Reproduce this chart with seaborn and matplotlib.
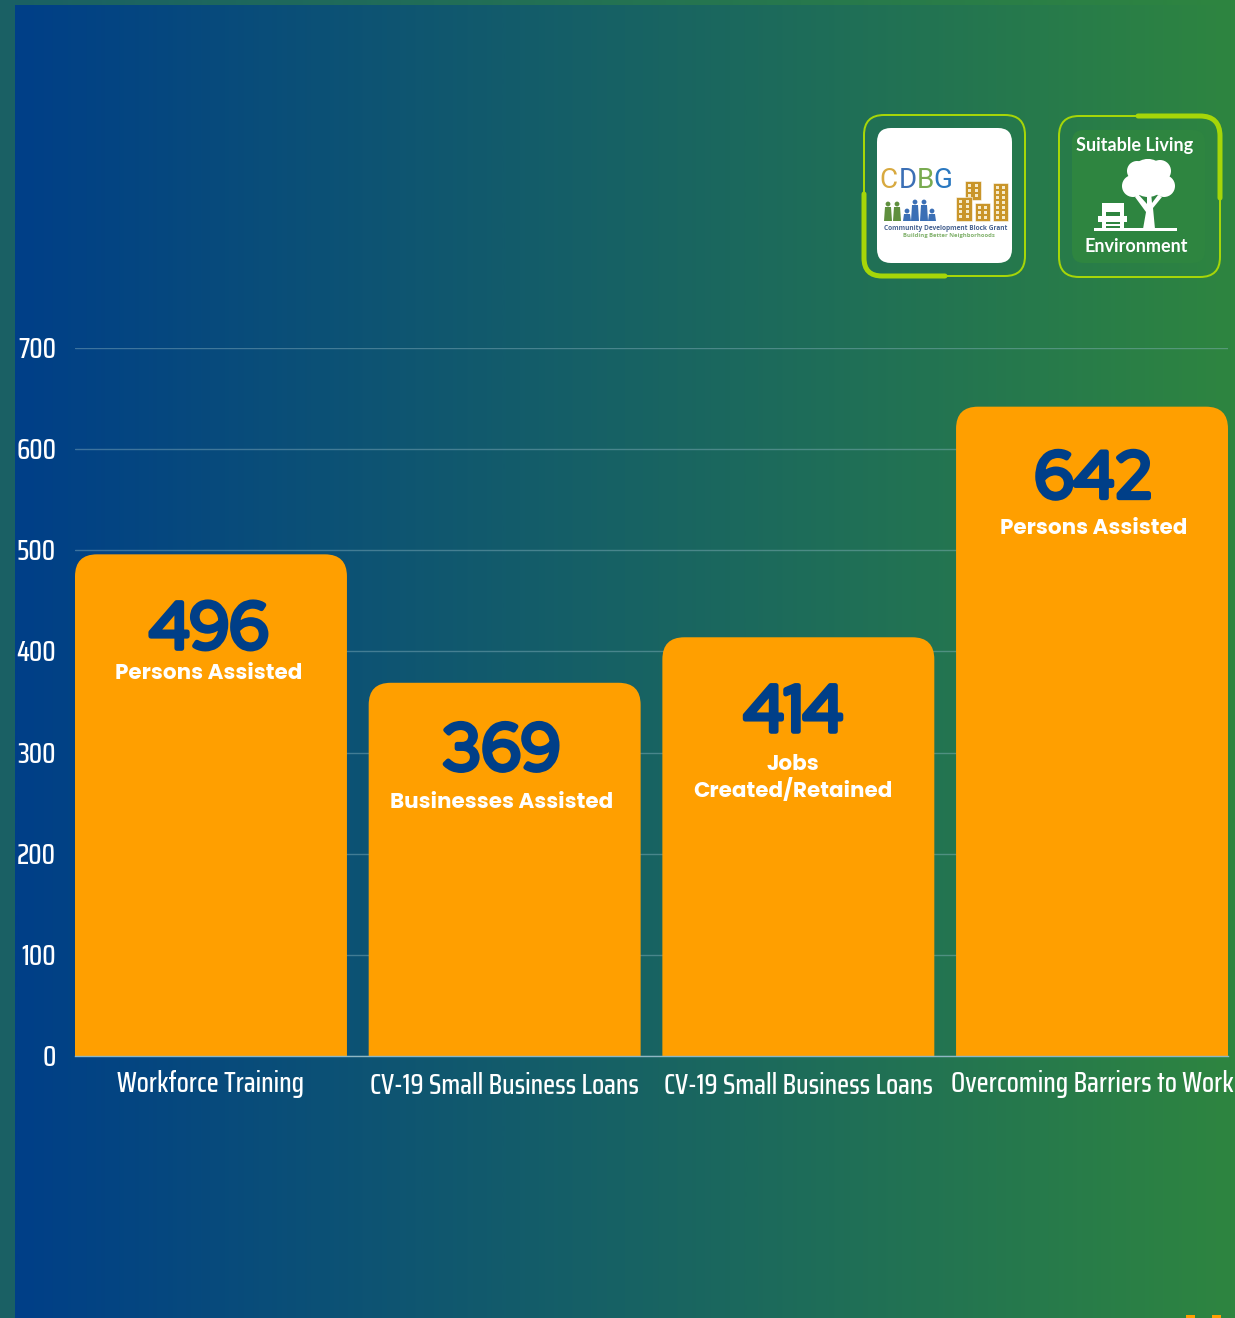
import matplotlib
matplotlib.use("Agg")
import matplotlib.patheffects as pe
import matplotlib.pyplot as plt
import numpy as np
import seaborn as sns
from matplotlib import font_manager as fm
from matplotlib.colors import LinearSegmentedColormap
from matplotlib.patches import Circle, FancyBboxPatch, PathPatch, Polygon, Rectangle
from matplotlib.path import Path
from matplotlib.transforms import ScaledTranslation

categories = [
    "Workforce Training",
    "CV-19 Small Business Loans",
    "CV-19 Small Business Loans",
    "Overcoming Barriers to Work",
]
values = [496, 369, 414, 642]
value_labels = ["496", "369", "414", "642"]
unit_labels = [
    "Persons Assisted",
    "Businesses Assisted",
    "Jobs\nCreated/Retained",
    "Persons Assisted",
]
y_ticks = [0, 100, 200, 300, 400, 500, 600, 700]

W, H = 1235, 1318
ORANGE = "#FF9F00"
NAVY = "#003F88"
GREEN = "#2E8540"
LIME = "#A6D608"
PX = 72 / 100

# nicer faces when present, otherwise the plain installed ones
installed = {f.name for f in fm.fontManager.ttflist}
TICK_FONT, TICK_SIZE = ("Saira Condensed", 20) if "Saira Condensed" in installed else ("Roboto", 14)
UNIT_FONT = "Poppins" if "Poppins" in installed else "Open Sans"
# Red Hat only comes as a regular weight here, so it gets thickened with a stroke
if "Red Hat Display" in installed:
    VALUE_FONT, VALUE_SIZE, VALUE_STROKE = "Red Hat Display", 47, 5 * PX
else:
    VALUE_FONT, VALUE_SIZE, VALUE_STROKE = "Open Sans", 46, 3 * PX


def rounded_frame(bg, x0, y0, x1, y1, r, color, lw, zorder=3):
    bg.add_patch(FancyBboxPatch((x0 + r, y0 + r), x1 - x0 - 2 * r, y1 - y0 - 2 * r,
                                boxstyle=f"round,pad={r},rounding_size={r}",
                                fc="none", ec=color, lw=lw, zorder=zorder))


def corner_stroke(bg, pts):
    codes = [Path.MOVETO, Path.LINETO, Path.CURVE3, Path.CURVE3, Path.LINETO]
    bg.add_patch(PathPatch(Path(pts, codes), fc="none", ec=LIME, lw=5 * PX,
                           capstyle="round", zorder=4))


def draw_background(bg):
    cmap = LinearSegmentedColormap.from_list("bg", [NAVY, GREEN])
    grad = np.linspace(0, 1, 512).reshape(1, -1)
    bg.imshow(grad, extent=(15, W, H, 5), cmap=cmap, aspect="auto", zorder=0)
    top = LinearSegmentedColormap.from_list("top", ["#1A6064", GREEN])
    bg.imshow(grad, extent=(0, W, 5, 0), cmap=top, aspect="auto", zorder=0)
    bg.add_patch(Rectangle((0, 0), 15, H, fc="#1A6064", ec="none", zorder=1))
    # clipped orange shapes at the bottom edge
    bg.add_patch(Rectangle((1186, 1315), 9, 3, fc=ORANGE, ec="none", zorder=1))
    bg.add_patch(Rectangle((1212, 1315), 9, 3, fc=ORANGE, ec="none", zorder=1))


def draw_cdbg_logo(bg):
    rounded_frame(bg, 864, 115, 1025, 276, 20, LIME, 2 * PX)
    corner_stroke(bg, [(864, 194), (864, 258), (864, 276), (882, 276), (945, 276)])
    bg.add_patch(FancyBboxPatch((891, 142), 107, 107, boxstyle="round,pad=14,rounding_size=14",
                                fc="white", ec="none", zorder=3))
    for x, ch, c in [(888.5, "C", "#D8A93F"), (907.5, "D", "#3B6FB5"),
                     (925.5, "B", "#79AB50"), (943, "G", "#2A78C0")]:
        bg.text(x, 180, ch, color=c, fontsize=20, family="Roboto",
                ha="center", va="center", zorder=5)
    gold = "#C9952A"
    for x0, y0, x1, y1 in [(965, 181, 981, 200), (956, 197, 972, 221),
                           (975, 203, 990, 221), (993, 183, 1008, 221)]:
        bg.add_patch(Rectangle((x0, y0), x1 - x0, y1 - y0, fc=gold, ec="white",
                               lw=0.4, zorder=4))
        for wy in np.arange(y0 + 3, y1 - 4, 5):
            for wx in (x0 + 3, x1 - 6):
                bg.add_patch(Rectangle((wx, wy), 3, 3, fc="#F6EBCB", ec="none", zorder=5))
    people = [(888, 202, "#5F8F3E"), (897, 202, "#5F8F3E"), (907, 209, "#3B6FB5"),
              (915, 200, "#3B6FB5"), (924, 200, "#3B6FB5"), (932, 209, "#3B6FB5")]
    for x, top, c in people:
        bg.add_patch(Circle((x, top + 2), 2.4, fc=c, ec="none", zorder=5))
        bg.add_patch(Polygon([(x - 3, top + 5), (x + 3, top + 5), (x + 4, 221), (x - 4, 221)],
                             fc=c, ec="none", zorder=5))
    bg.text(946, 228, "Community Development Block Grant", color="#44608F", fontsize=4.7,
            fontweight="bold", ha="center", va="center", zorder=5, family="Open Sans")
    bg.text(949, 236, "Building Better Neighborhoods", color="#7FB069", fontsize=4.2,
            fontweight="bold", ha="center", va="center", zorder=5, family="Open Sans")


def draw_living_badge(bg):
    rounded_frame(bg, 1059, 116, 1220, 277, 20, LIME, 2 * PX)
    corner_stroke(bg, [(1138, 116), (1200, 116), (1220, 116), (1220, 136), (1220, 198)])
    bg.add_patch(FancyBboxPatch((1084, 142), 109, 109, boxstyle="round,pad=12,rounding_size=12",
                                fc=GREEN, ec="none", zorder=3))
    bg.text(1135, 146, "Suitable Living", color="white", fontsize=13, family="Lato",
            fontweight="bold", ha="center", va="center", zorder=5)
    bg.text(1136, 247, "Environment", color="white", fontsize=13, family="Lato",
            fontweight="bold", ha="center", va="center", zorder=5)
    for cx, cy, r in [(1148, 178, 19), (1133, 186, 11), (1164, 186, 11), (1137, 171, 10),
                      (1160, 171, 11), (1148, 167, 8)]:
        bg.add_patch(Circle((cx, cy), r, fc="white", ec="none", zorder=5))
    bg.add_patch(Polygon([(1143, 229), (1155, 229), (1153, 208), (1162, 197), (1158, 195),
                          (1152, 203), (1151, 192), (1147, 192), (1147, 204), (1138, 194),
                          (1135, 197), (1146, 212)], fc="white", ec="none", zorder=5))
    bg.add_patch(Rectangle((1094, 228), 83, 3, fc="white", ec="none", zorder=5))
    for x0, y0, x1, y1 in [(1102, 203, 1124, 212), (1098, 216, 1127, 222),
                           (1102, 212, 1106, 229), (1120, 212, 1124, 229),
                           (1102, 224, 1124, 226)]:
        bg.add_patch(Rectangle((x0, y0), x1 - x0, y1 - y0, fc="white", ec="none", zorder=5))


def main():
    sns.set_theme(style="white")
    fig = plt.figure(figsize=(W / 100, H / 100), dpi=100)

    bg = fig.add_axes([0, 0, 1, 1], zorder=0)
    bg.set_axis_off()
    draw_background(bg)
    draw_cdbg_logo(bg)
    draw_living_badge(bg)
    bg.set_xlim(0, W)
    bg.set_ylim(H, 0)

    ax = fig.add_axes([75 / W, 1 - 1056 / H, (1228 - 75) / W, (1056 - 348) / H], zorder=1)
    ax.patch.set_alpha(0)
    sns.barplot(x=list(range(len(values))), y=values, color=ORANGE, width=0.926,
                saturation=1, ax=ax, zorder=2)
    ax.set_xlim(-0.463, 3.463)
    ax.set_ylim(0, 700)

    # swap the square bars for ones with rounded top corners
    px_x = (1228 - 75) / (3.463 + 0.463)
    px_y = (1056 - 348) / 700
    radius = 22 / px_x
    for bar in list(ax.patches):
        x0, w, h = bar.get_x(), bar.get_width(), bar.get_height()
        bar.set_visible(False)
        ax.add_patch(FancyBboxPatch((x0, -50), w, h + 50,
                                    boxstyle=f"round,pad=0,rounding_size={radius}",
                                    mutation_aspect=px_x / px_y,
                                    fc=ORANGE, ec="none", zorder=2))

    ax.set_yticks(y_ticks)
    ax.grid(axis="y", color="#8FB7C4", alpha=0.42, lw=1)
    ax.set_axisbelow(True)
    sns.despine(ax=ax, left=True, top=True, right=True)
    ax.spines["bottom"].set_color("#8FB7C4")
    ax.spines["bottom"].set_linewidth(1)
    ax.tick_params(axis="both", length=0)
    ax.tick_params(axis="y", pad=19 * PX)
    ax.set_xticks(range(len(categories)))
    ax.set_xticklabels(categories)
    for lab in ax.get_yticklabels():
        lab.set(color="white", fontsize=TICK_SIZE, family=TICK_FONT, fontweight="medium")
        lab.set_transform(lab.get_transform() + ScaledTranslation(0, 1 / 100, fig.dpi_scale_trans))
    for i, lab in enumerate(ax.get_xticklabels()):
        lab.set(color="white", fontsize=TICK_SIZE, family=TICK_FONT, fontweight="medium")
        shift = ScaledTranslation(0, -(11 if i in (1, 2) else 9) / 100, fig.dpi_scale_trans)
        lab.set_transform(lab.get_transform() + shift)

    # offsets in picture pixels below each bar top
    value_base = [94, 87, 94, 91]
    unit_dy = [120, 120, 141, 122]
    text_dx = [-2, -3, -5, 2]
    stroke = [pe.withStroke(linewidth=VALUE_STROKE, foreground=NAVY)]
    for i, (v, vl, ul) in enumerate(zip(values, value_labels, unit_labels)):
        ax.annotate(vl, (i, v), xytext=(text_dx[i] * PX, -value_base[i] * PX),
                    textcoords="offset points", color=NAVY, fontsize=VALUE_SIZE, family=VALUE_FONT,
                    fontweight="bold", ha="center", va="baseline", zorder=3,
                    path_effects=stroke)
        ax.annotate(ul, (i, v), xytext=(text_dx[i] * PX, -unit_dy[i] * PX),
                    textcoords="offset points", color="white", fontsize=15.45, family=UNIT_FONT,
                    fontweight="bold", ha="center", va="center", linespacing=1.17, zorder=3)

    fig.savefig("out.png", dpi=100)
    plt.close(fig)


if __name__ == "__main__":
    main()
